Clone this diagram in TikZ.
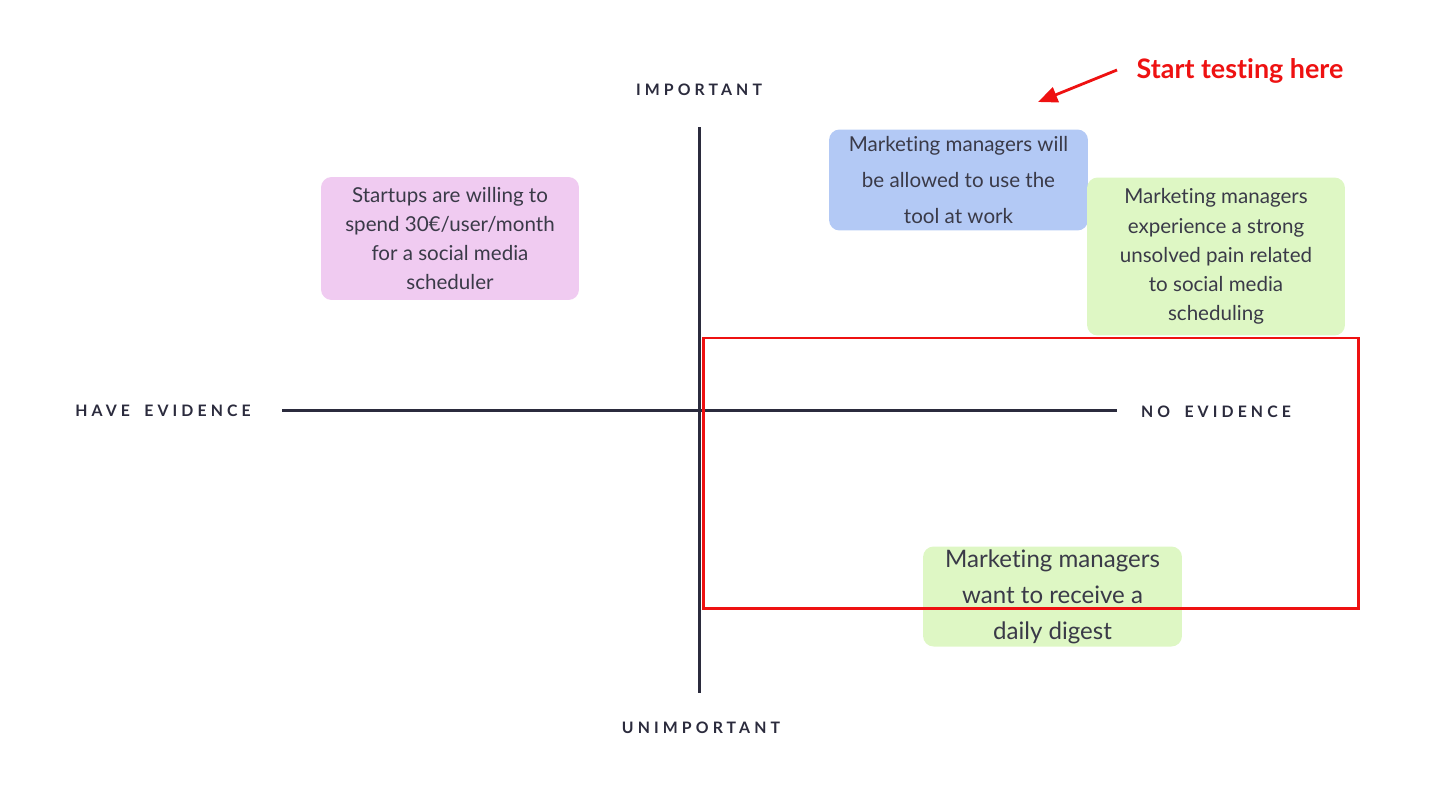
\documentclass[tikz,border=0pt]{standalone}
\usepackage{fontspec}
\usetikzlibrary{arrows.meta}
\setmainfont{Lato}[Ligatures=NoCommon]
\newfontfamily\axisfont[LetterSpace=26,WordSpace=1.8]{Lato}
\definecolor{axiscol}{HTML}{2B2B3D}
\definecolor{textcol}{HTML}{3A3A48}
\definecolor{pinkbox}{HTML}{F0CBF1}
\definecolor{bluebox}{HTML}{B3C9F5}
\definecolor{greenbox}{HTML}{DEF7C4}
\definecolor{testred}{HTML}{EE1111}
\begin{document}
\begin{tikzpicture}[x=0.02cm,y=-0.02cm,
  note/.style={rounded corners=6pt, text=textcol, align=center, inner sep=0pt},
  axisline/.style={draw=axiscol, line width=1.7pt},
  axislabel/.style={font=\axisfont\bfseries\fontsize{9}{10}\selectfont, text=axiscol}]
\useasboundingbox (0,0) rectangle (1456,808);
% assumptions
\node[note, fill=pinkbox, minimum width=5.16cm, minimum height=2.46cm,
  font=\fontsize{11.7}{16.5}\selectfont] (pricing) at (450,238.5)
  {Startups are willing to\\spend 30€/user/month\\for a social media\\scheduler};
\node[note, fill=bluebox, minimum width=5.18cm, minimum height=2.02cm,
  font=\fontsize{11.7}{20.7}\selectfont] (allowed) at (958.5,180)
  {Marketing managers will\\be allowed to use the\\tool at work};
\node[note, fill=greenbox, minimum width=5.16cm, minimum height=3.16cm,
  font=\fontsize{11.7}{16.6}\selectfont] (pain) at (1216,256.5)
  {Marketing managers\\experience a strong\\unsolved pain related\\to social media\\scheduling};
\node[note, fill=greenbox, minimum width=5.18cm, minimum height=2.0cm,
  font=\fontsize{13.7}{20.4}\selectfont] (digest) at (1052.5,596.5)
  {Marketing managers\\want to receive a\\daily digest};
% axes
\coordinate (top) at (699,127);
\coordinate (bottom) at (699,693);
\coordinate (left) at (282,410);
\coordinate (right) at (1117,410);
\draw[axisline] (top) -- (bottom);
\draw[axisline] (left) -- (right);
\node[axislabel] (important) at (699,90) {IMPORTANT};
\node[axislabel] (unimportant) at (701,728) {UNIMPORTANT};
\node[axislabel] (have) at (163,411) {HAVE EVIDENCE};
\node[axislabel] (noev) at (1216,412) {NO EVIDENCE};
% test zone
\draw[testred, line width=1.7pt] (703,338) rectangle (1358,608);
\coordinate (arrowstart) at (1117,70);
\coordinate (arrowend) at (1038,102);
\draw[testred, line width=1.6pt, -{Triangle[length=11pt,width=9pt]}] (arrowstart) -- (arrowend);
\node[font=\bfseries\fontsize{15.3}{17}\selectfont, text=testred] (start) at (1240,71) {Start testing here};
\end{tikzpicture}
\end{document}
